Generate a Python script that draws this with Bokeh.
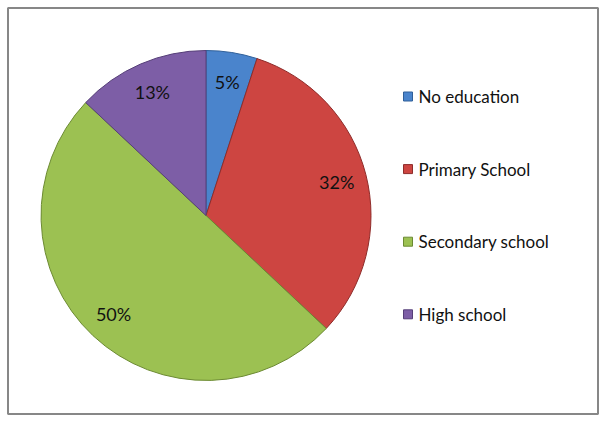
import math
from bokeh.plotting import figure
from bokeh.models import Range1d, ColumnDataSource
from bokeh.core.properties import value
from bokeh.embed import file_html
from bokeh.resources import INLINE

categories = ["No education", "Primary School", "Secondary school", "High school"]
shares = [5, 32, 50, 13]
pct_labels = ["5%", "32%", "50%", "13%"]
colors = ["#4a84cc", "#cd4541", "#9cc152", "#7d5ea6"]
edge_colors = ["#2f5f99", "#8e2c2a", "#6c8a33", "#563f78"]

W, H = 600, 418
p = figure(width=W, height=H, output_backend="svg", toolbar_location=None,
           x_range=Range1d(0, W), y_range=Range1d(H, 0), min_border=0)
p.axis.visible = False
p.grid.visible = False
p.outline_line_color = None
p.background_fill_color = "white"

# chart border
p.quad(left=7.5, right=597.5, top=7.5, bottom=413.5, fill_color=None,
       line_color="#878787", line_width=2)

cx, cy, R = 205.5, 215, 165
total = sum(shares)
starts, ends, lx, ly = [], [], [], []
acc = 0.0
for s in shares:
    # screen angles (counter-clockwise positive, y up), starting at 12 o'clock going clockwise
    a0 = math.pi / 2 - 2 * math.pi * acc / total
    acc += s
    a1 = math.pi / 2 - 2 * math.pi * acc / total
    starts.append(a0)
    ends.append(a1)
    mid = (a0 + a1) / 2
    lx.append(cx + 135 * math.cos(mid))
    ly.append(cy - 135 * math.sin(mid))  # inverted y range

src = ColumnDataSource(dict(start=starts, end=ends, color=colors, edge=edge_colors,
                            lx=lx, ly=ly, lab=pct_labels))
p.wedge(x=cx, y=cy, radius=R, start_angle="start", end_angle="end", direction="clock",
        fill_color="color", line_color="edge", line_width=1, source=src)
p.text(x="lx", y="ly", text="lab", source=src, text_align="center", text_baseline="middle",
       text_font=value("Lato"), text_font_size="18px", text_color="#111111")

leg_y = [96 + i * 72.6 for i in range(len(categories))]
leg_src = ColumnDataSource(dict(x=[407.5] * 4, y=leg_y, tx=[418] * 4, cat=categories,
                                color=colors, edge=edge_colors))
p.scatter(x="x", y="y", marker="square", size=9, fill_color="color", line_color="edge",
          source=leg_src)
p.text(x="tx", y="y", text="cat", source=leg_src, text_align="left", text_baseline="middle",
       text_font=value("Lato"), text_font_size="17px", text_color="#111111")

open("out.html", "w").write(file_html(p, INLINE))
